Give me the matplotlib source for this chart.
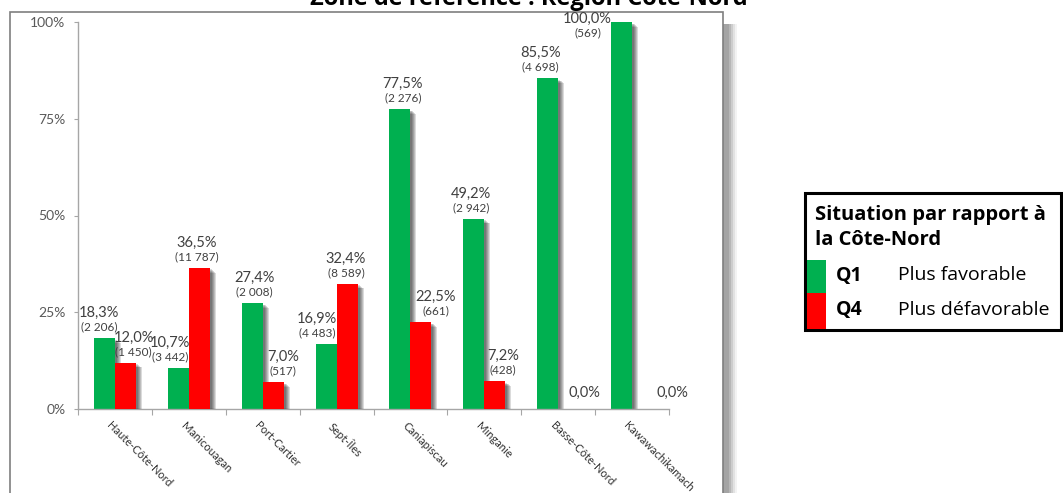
import numpy as np
import matplotlib
matplotlib.use("Agg")
import matplotlib.pyplot as plt
from matplotlib.patches import Rectangle
from matplotlib import patheffects as pe

# --- data -------------------------------------------------------------
regions = ["Haute-Côte-Nord", "Manicouagan", "Port-Cartier", "Sept-Îles",
           "Caniapiscau", "Minganie", "Basse-Côte-Nord", "Kawawachikamach"]
q1_pct = [18.3, 10.7, 27.4, 16.9, 77.5, 49.2, 85.5, 100.0]
q1_n = [2206, 3442, 2008, 4483, 2276, 2942, 4698, 569]
q4_pct = [12.0, 36.5, 7.0, 32.4, 22.5, 7.2, 0.0, 0.0]
q4_n = [1450, 11787, 517, 8589, 661, 428, None, None]
y_ticks = [0, 25, 50, 75, 100]

title = "Zone de référence : Région Côte-Nord"
legend_title = ["Situation par rapport à", "la Côte-Nord"]
legend_codes = ["Q1", "Q4"]
legend_desc = ["Plus favorable", "Plus défavorable"]

# --- style ------------------------------------------------------------
GREEN = "#00B050"
RED = "#FF0000"
TXT = "#404040"
W, H = 1063, 493
PX = 0.72  # points per pixel at 100 dpi

# horizontal nudges (pixels) of the value labels
q1_dx = [-5, -8, 2, -9, 3, -3, -7, -34]
q4_dx = [8, -3, 10, -1, 15, 8, 16, 30]

fig = plt.figure(figsize=(W / 100, H / 100), dpi=100)
fig.patch.set_facecolor("white")

def fx(px):
    return px / W

def fy(py):
    return 1 - py / H

# chart frame with its soft right shadow
for k, a in enumerate([0.55, 0.45, 0.35, 0.25, 0.15]):
    fig.patches.append(Rectangle((fx(723), -0.1), fx(6 + 2 * k), fy(24) + 0.1,
                                 transform=fig.transFigure, facecolor="#808080",
                                 edgecolor="none", alpha=a * 0.6, zorder=0))
fig.patches.append(Rectangle((fx(10), -0.1), fx(723) - fx(10), fy(12) + 0.1,
                             transform=fig.transFigure, facecolor="white",
                             edgecolor="#7f7f7f", linewidth=1.2, zorder=1))

ax = fig.add_axes([fx(78), fy(409), fx(669) - fx(78), fy(22) - fy(409)])
ax.set_zorder(2)
ax.patch.set_alpha(0)

x = np.arange(len(regions))
bw = 0.285
q1_frac = np.array(q1_pct) / 100
q4_frac = np.array(q4_pct) / 100

shadow = [pe.SimplePatchShadow(offset=(k * PX, -k * 0.8 * PX), shadow_rgbFace="black",
                               alpha=0.14) for k in (2, 3, 4, 5, 6)] + [pe.Normal()]

b1 = ax.bar(x - bw / 2, q1_frac, bw, color=GREEN, zorder=2)
b4 = ax.bar(x + bw / 2, q4_frac, bw, color=RED, zorder=3)
for bars in (b1, b4):
    for r in bars:
        r.set_path_effects(shadow)

def fmt_pct(v):
    return f"{v:.1f}%".replace(".", ",")

def fmt_n(n):
    return "(" + f"{n:,}".replace(",", " ") + ")"

for xs, pcts, fracs, ns, dxs in ((x - bw / 2, q1_pct, q1_frac, q1_n, q1_dx),
                                 (x + bw / 2, q4_pct, q4_frac, q4_n, q4_dx)):
    for xi, v, y, n, dx in zip(xs, pcts, fracs, ns, dxs):
        dy = -22 if v >= 100 else 0
        if n is None:
            ax.annotate(fmt_pct(v), (xi, y), xytext=(dx * PX, 16 * PX),
                        textcoords="offset points", ha="center", va="center",
                        fontsize=10.5, color=TXT, family="Lato", zorder=5)
            continue
        ax.annotate(fmt_pct(v), (xi, y), xytext=(dx * PX, (25 + dy) * PX),
                    textcoords="offset points", ha="center", va="center",
                    fontsize=10.5, color=TXT, family="Lato", zorder=5)
        ax.annotate(fmt_n(n), (xi, y), xytext=(dx * PX, (11 + dy) * PX),
                    textcoords="offset points", ha="center", va="center",
                    fontsize=8.5, color=TXT, family="Lato", zorder=5)

ax.set_xlim(-0.5, len(regions) - 0.5)
ax.set_ylim(0, 1)
ax.set_yticks([t / 100 for t in y_ticks])
ax.set_yticklabels([f"{t}%" for t in y_ticks], fontsize=10, color="#595959",
                   family="Lato")
ax.tick_params(axis="y", length=3, color="#a6a6a6", pad=6)

ax.set_xticks(np.arange(-0.5, len(regions)))
ax.set_xticklabels([])
ax.tick_params(axis="x", which="major", length=4, color="#a6a6a6", direction="out")
ax.set_xticks(x - 0.03, minor=True)
ax.set_xticklabels(regions, minor=True, rotation=-45, ha="left", va="top",
                   rotation_mode="anchor", fontsize=8, color="#303030", family="Lato")
ax.tick_params(axis="x", which="minor", length=0, pad=8)

for s in ("top", "right"):
    ax.spines[s].set_visible(False)
for s in ("left", "bottom"):
    ax.spines[s].set_color("#a6a6a6")
    ax.spines[s].set_linewidth(1.0)

# title along the top edge
fig.text(fx(529), fy(5), title, ha="center", va="baseline", fontsize=17,
         fontweight="bold", family="Open Sans", color="black")

# legend box
lx0, lx1, ly0, ly1 = 805, 1061, 193, 330
fig.patches.append(Rectangle((fx(lx0), fy(ly1)), fx(lx1) - fx(lx0), fy(ly0) - fy(ly1),
                             transform=fig.transFigure, facecolor="white",
                             edgecolor="black", linewidth=2.2, zorder=3))
for line, ly in zip(legend_title, (215, 240)):
    fig.text(fx(815), fy(ly), line, ha="left", va="center",
             fontsize=14.5, fontweight="bold", family="Open Sans", zorder=4)
for (c, y0, y1), code, desc in zip(((GREEN, 260, 293), (RED, 293, 329)),
                                   legend_codes, legend_desc):
    fig.patches.append(Rectangle((fx(807), fy(y1)), fx(826) - fx(807), fy(y0) - fy(y1),
                                 transform=fig.transFigure, facecolor=c,
                                 edgecolor="none", zorder=4))
    yc = (y0 + y1) / 2 - 1
    fig.text(fx(836), fy(yc), code, ha="left", va="center", fontsize=14,
             fontweight="bold", family="Open Sans", zorder=5)
    fig.text(fx(898), fy(yc), desc, ha="left", va="center", fontsize=14,
             family="Open Sans", zorder=5)

fig.savefig("out.png", dpi=100, facecolor="white")
